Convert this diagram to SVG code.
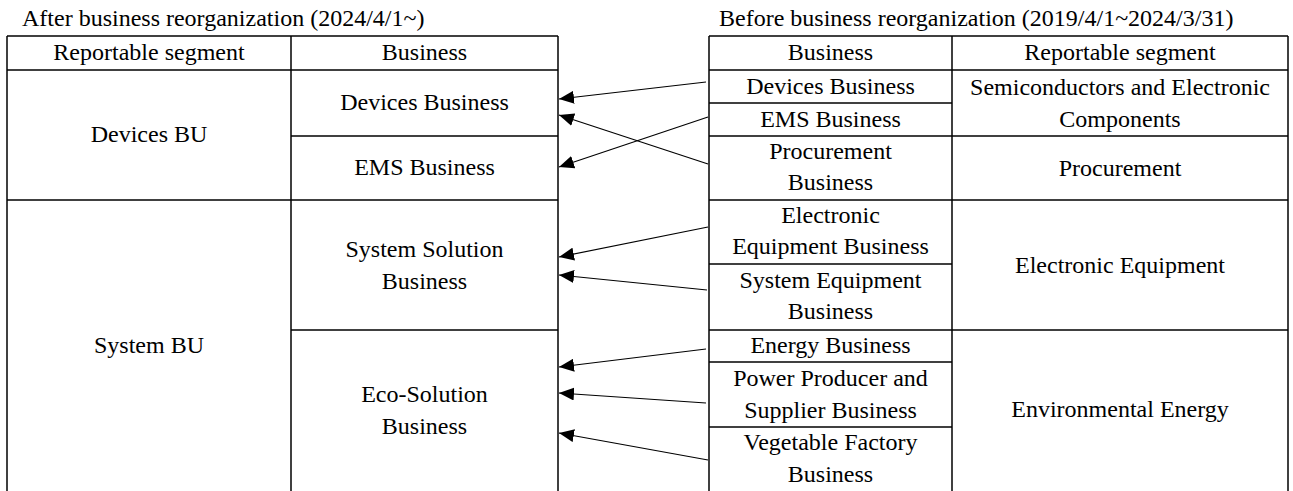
<svg xmlns="http://www.w3.org/2000/svg" width="1293" height="491" viewBox="0 0 1293 491">
<style>
  text { font-family: "Liberation Serif", "Times New Roman", serif; font-size: 24px; fill: #000; }
  .c { text-anchor: middle; }
  .grid line { stroke: #000; stroke-width: 1.5; }
  .conn line { stroke: #000; stroke-width: 1.2; marker-end: url(#ah); }
</style>
<defs>
  <marker id="ah" markerUnits="userSpaceOnUse" viewBox="0 0 15 13" markerWidth="15" markerHeight="13" refX="15" refY="6.5" orient="auto">
    <path d="M0,0 L15,6.5 L0,13 z" fill="#000"/>
  </marker>
</defs>
<rect width="1293" height="491" fill="#fff"/>

<g id="titles">
  <text x="22" y="26">After business reorganization (2024/4/1~)</text>
  <text x="719" y="26">Before business reorganization (2019/4/1~2024/3/31)</text>
</g>

<g id="left-table-grid" class="grid">
  <line x1="7" y1="36" x2="558" y2="36"/>
  <line x1="7" y1="70" x2="558" y2="70"/>
  <line x1="291" y1="136" x2="558" y2="136"/>
  <line x1="7" y1="200" x2="558" y2="200"/>
  <line x1="291" y1="330" x2="558" y2="330"/>
  <line x1="7" y1="36" x2="7" y2="491"/>
  <line x1="291" y1="36" x2="291" y2="491"/>
  <line x1="558" y1="36" x2="558" y2="491"/>
</g>

<g id="right-table-grid" class="grid">
  <line x1="709" y1="36" x2="1288" y2="36"/>
  <line x1="709" y1="70" x2="1288" y2="70"/>
  <line x1="709" y1="103" x2="952" y2="103"/>
  <line x1="709" y1="136" x2="1288" y2="136"/>
  <line x1="709" y1="200" x2="1288" y2="200"/>
  <line x1="709" y1="264" x2="952" y2="264"/>
  <line x1="709" y1="330" x2="1288" y2="330"/>
  <line x1="709" y1="362" x2="952" y2="362"/>
  <line x1="709" y1="427" x2="952" y2="427"/>
  <line x1="709" y1="36" x2="709" y2="491"/>
  <line x1="952" y1="36" x2="952" y2="491"/>
  <line x1="1288" y1="36" x2="1288" y2="491"/>
</g>

<g id="left-header-segment"><text class="c" x="149" y="60">Reportable segment</text></g>
<g id="left-header-business"><text class="c" x="424.5" y="60">Business</text></g>
<g id="devices-bu"><text class="c" x="149" y="142">Devices BU</text></g>
<g id="system-bu"><text class="c" x="149" y="353">System BU</text></g>
<g id="new-devices-business"><text class="c" x="424.5" y="110">Devices Business</text></g>
<g id="new-ems-business"><text class="c" x="424.5" y="175">EMS Business</text></g>
<g id="system-solution-business"><text class="c" x="424.5" y="257">System Solution</text><text class="c" x="424.5" y="289">Business</text></g>
<g id="eco-solution-business"><text class="c" x="424.5" y="402">Eco-Solution</text><text class="c" x="424.5" y="434">Business</text></g>

<g id="right-header-business"><text class="c" x="830.5" y="60">Business</text></g>
<g id="right-header-segment"><text class="c" x="1120" y="60">Reportable segment</text></g>
<g id="old-devices-business"><text class="c" x="830.5" y="94">Devices Business</text></g>
<g id="old-ems-business"><text class="c" x="830.5" y="127">EMS Business</text></g>
<g id="procurement-business"><text class="c" x="830.5" y="159">Procurement</text><text class="c" x="830.5" y="190">Business</text></g>
<g id="electronic-equipment-business"><text class="c" x="830.5" y="223">Electronic</text><text class="c" x="830.5" y="254">Equipment Business</text></g>
<g id="system-equipment-business"><text class="c" x="830.5" y="288">System Equipment</text><text class="c" x="830.5" y="319">Business</text></g>
<g id="energy-business"><text class="c" x="830.5" y="353">Energy Business</text></g>
<g id="power-producer-business"><text class="c" x="830.5" y="386">Power Producer and</text><text class="c" x="830.5" y="418">Supplier Business</text></g>
<g id="vegetable-factory-business"><text class="c" x="830.5" y="450">Vegetable Factory</text><text class="c" x="830.5" y="482">Business</text></g>

<g id="seg-semiconductors"><text class="c" x="1120" y="95">Semiconductors and Electronic</text><text class="c" x="1120" y="127">Components</text></g>
<g id="seg-procurement"><text class="c" x="1120" y="176">Procurement</text></g>
<g id="seg-electronic-equipment"><text class="c" x="1120" y="273">Electronic Equipment</text></g>
<g id="seg-environmental-energy"><text class="c" x="1120" y="417">Environmental Energy</text></g>

<g id="connectors" class="conn">
  <line x1="706" y1="82" x2="559" y2="99"/>
  <line x1="708" y1="164" x2="559" y2="115"/>
  <line x1="708" y1="117" x2="559" y2="167"/>
  <line x1="708" y1="227" x2="559" y2="257"/>
  <line x1="707" y1="290" x2="559" y2="275"/>
  <line x1="706" y1="349" x2="559" y2="367"/>
  <line x1="706" y1="403" x2="559" y2="393"/>
  <line x1="708" y1="460" x2="559" y2="433"/>
</g>
</svg>
